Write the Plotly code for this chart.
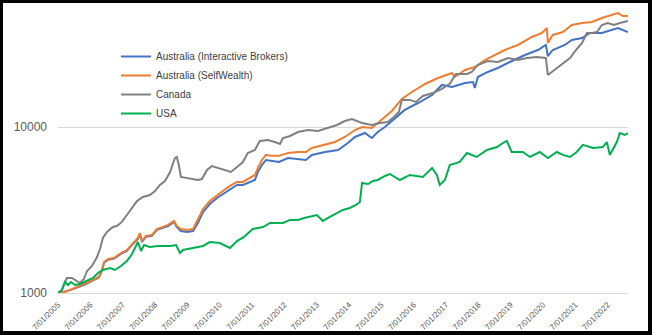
import plotly.graph_objects as go

# ---------------- data ----------------
canada_dates = ["2005-07-01","2005-08-15","2005-09-18","2005-10-10","2005-12-06","2006-01-20","2006-03-05",
    "2006-04-20","2006-05-25","2006-07-20","2006-09-15","2006-10-18","2006-11-20","2007-01-05","2007-03-12",
    "2007-04-27","2007-06-22","2007-08-18","2007-10-15","2007-12-10","2008-02-15","2008-05-03","2008-07-01",
    "2008-08-25","2008-10-21","2008-12-18","2009-01-21","2009-02-12","2009-03-04","2009-03-27","2009-04-19",
    "2009-06-27","2009-09-03","2009-10-28","2009-12-13","2010-02-08","2010-04-04","2010-06-12","2010-08-18",
    "2010-11-06","2011-01-13","2011-03-20","2011-05-15","2011-08-03","2011-09-28","2011-12-28","2012-03-15",
    "2012-05-12","2012-06-15","2012-09-03","2012-12-01","2013-03-24","2013-07-15","2013-11-06","2014-02-15",
    "2014-05-15","2014-08-03","2014-11-25","2015-03-15","2015-06-15","2015-09-12","2015-11-20","2016-01-15",
    "2016-02-18","2016-05-18","2016-07-25","2016-10-12","2017-02-03","2017-05-15","2017-08-12","2017-10-20",
    "2018-02-22","2018-04-18","2018-06-25","2018-10-15","2019-02-06","2019-06-01","2019-09-20","2020-01-01",
    "2020-04-20","2020-08-01","2020-08-24","2020-10-08","2020-12-04","2021-02-10","2021-05-01","2021-07-08",
    "2021-09-14","2021-11-08","2022-01-04","2022-03-01","2022-04-25","2022-07-01","2022-09-08","2022-11-15",
    "2023-02-15"]
canada_values = [1000,1043,1165,1231,1231,1181,1148,
    1214,1357,1454,1648,1840,2145,2330,2497,
    2530,2680,2950,3252,3580,3790,3895,4120,
    4475,4730,5357,6070,6507,6600,5900,5000,
    4930,4860,4795,4860,5510,5820,5663,5510,
    5357,5740,6155,6974,7270,8240,8350,8120,
    7900,8586,8830,9330,9590,9460,9860,10280,
    10870,11170,10570,10280,10570,10720,11490,12320,
    14560,14560,14150,15370,16030,16950,18200,20860,
    20860,21450,23640,24980,24640,26040,25320,26040,
    26400,26040,20580,21450,22670,23970,26040,29100,
    32060,36840,36840,37360,41170,42320,41170,42320,
    43520]

sw_dates = ["2005-07-01","2005-09-07","2005-11-15","2006-02-01","2006-05-01","2006-08-01","2006-10-06",
    "2006-11-10","2006-12-03","2007-01-18","2007-03-25","2007-06-12","2007-08-18","2007-10-25","2007-12-21",
    "2008-01-12","2008-02-05","2008-03-20","2008-05-27","2008-07-22","2008-10-01","2008-11-25","2009-02-01",
    "2009-03-04","2009-04-19","2009-06-27","2009-09-03","2009-10-28","2009-12-25","2010-03-12","2010-06-01",
    "2010-08-06","2010-10-25","2011-01-13","2011-03-20","2011-06-06","2011-08-03","2011-09-06","2011-10-21",
    "2011-12-06","2012-02-12","2012-05-01","2012-08-10","2012-12-01","2013-03-01","2013-05-07","2013-10-03",
    "2014-01-24","2014-05-15","2014-09-06","2014-11-25","2015-03-15","2015-05-22","2015-08-10","2015-10-28",
    "2016-02-18","2016-06-10","2016-11-06","2017-04-01","2017-09-06","2017-10-08","2018-02-01","2018-05-22",
    "2018-09-12","2019-01-04","2019-04-25","2019-09-20","2020-02-27","2020-06-18","2020-08-12","2020-08-24",
    "2020-10-18","2021-02-10","2021-05-21","2021-09-14","2022-01-04","2022-04-25","2022-08-15","2022-10-24",
    "2022-12-18","2023-02-15"]
sw_values = [1000,1014,1043,1087,1133,1198,1249,
    1376,1537,1602,1625,1742,1815,2000,2145,
    2298,2056,2206,2237,2430,2497,2570,2717,
    2530,2430,2397,2430,2755,3208,3580,3895,
    4120,4415,4665,4665,4930,5140,5663,6330,
    6790,6700,6700,6974,7070,7070,7474,7800,
    8120,8710,9590,10000,9860,10570,11490,12490,
    14760,16250,18160,19730,21150,20010,22040,22990,
    25320,27140,29100,31190,34850,36840,39490,32060,
    35840,37360,41170,42320,42920,45360,47280,48620,
    46630,46630]

ib_dates = ["2005-07-01","2005-09-07","2005-11-15","2006-02-01","2006-05-01","2006-08-01","2006-10-06",
    "2006-11-10","2006-12-03","2007-01-18","2007-03-25","2007-06-12","2007-08-18","2007-10-25","2007-12-21",
    "2008-01-12","2008-02-05","2008-03-20","2008-05-27","2008-07-22","2008-10-01","2008-11-25","2009-02-01",
    "2009-03-04","2009-04-19","2009-06-27","2009-09-03","2009-10-28","2009-12-25","2010-03-12","2010-06-01",
    "2010-08-06","2010-10-25","2011-01-13","2011-03-20","2011-06-06","2011-08-03","2011-09-06","2011-10-21",
    "2011-12-06","2012-02-12","2012-05-01","2012-08-10","2012-12-01","2013-03-01","2013-05-07","2013-10-03",
    "2014-02-27","2014-06-18","2014-09-06","2014-12-28","2015-03-15","2015-05-22","2015-08-10","2015-12-01",
    "2016-03-22","2016-08-18","2017-01-24","2017-05-15","2017-09-06","2018-02-01","2018-05-01","2018-05-22",
    "2018-06-25","2018-10-15","2019-02-06","2019-06-22","2019-12-10","2020-05-03","2020-08-01","2020-08-24",
    "2020-10-18","2021-03-04","2021-05-21","2021-09-14","2021-12-12","2022-04-25","2022-08-15","2022-10-24",
    "2023-02-15"]
ib_values = [1000,1014,1040,1080,1125,1190,1240,
    1365,1520,1585,1610,1720,1790,1975,2120,
    2270,2030,2180,2210,2400,2460,2530,2680,
    2497,2364,2330,2364,2641,3076,3436,3736,
    3950,4233,4475,4475,4665,4795,5357,5900,
    6330,6240,6155,6507,6418,6330,6790,7070,
    7270,8011,8710,9204,8586,9330,10000,11330,
    12670,13950,15580,17920,17420,18410,18670,17180,
    20010,21450,22670,24640,27140,29100,31190,26770,
    29100,31190,33440,34370,36840,36840,38400,39490,
    37360]

usa_dates = ["2005-07-01","2005-08-15","2005-09-18","2005-10-22","2005-11-25","2006-01-10","2006-03-05",
    "2006-05-25","2006-08-01","2006-09-25","2006-11-20","2007-02-09","2007-04-04","2007-06-12","2007-08-18",
    "2007-10-15","2007-11-28","2007-12-21","2008-01-25","2008-02-28","2008-05-03","2008-08-03","2008-10-21",
    "2008-12-28","2009-02-24","2009-04-09","2009-05-12","2009-09-03","2009-12-25","2010-03-12","2010-07-03",
    "2010-10-25","2011-01-13","2011-04-01","2011-07-10","2011-11-03","2012-01-21","2012-06-15","2012-09-03",
    "2012-12-01","2013-02-09","2013-07-03","2013-09-09","2013-11-27","2014-02-15","2014-04-22","2014-07-10",
    "2014-09-18","2014-11-01","2014-11-25","2015-02-01","2015-03-28","2015-05-22","2015-08-10","2015-10-06",
    "2016-01-27","2016-05-18","2016-10-12","2017-01-24","2017-03-19","2017-04-21","2017-06-18","2017-08-12",
    "2017-12-03","2018-02-22","2018-06-12","2018-10-06","2019-01-28","2019-04-03","2019-05-18","2019-07-12",
    "2019-11-15","2020-02-03","2020-05-25","2020-08-24","2020-12-04","2021-02-10","2021-05-01","2021-07-16",
    "2021-09-24","2022-01-16","2022-05-06","2022-06-21","2022-07-25","2022-10-12","2022-11-15","2023-01-12",
    "2023-02-15"]
usa_values = [1000,1043,1165,1117,1165,1117,1133,
    1181,1231,1320,1376,1414,1376,1454,1558,
    1718,1946,2028,1791,1946,1893,1920,1920,
    1920,1946,1742,1815,1867,1920,2028,2000,
    1867,2056,2177,2430,2497,2641,2641,2755,
    2755,2830,2950,2717,2870,3034,3165,3252,
    3390,3536,4600,4535,4730,4795,5070,5210,
    4795,5140,5000,5663,5140,4475,4795,5900,
    6155,6974,6600,7270,7570,8011,8240,7070,
    7070,6600,7070,6507,7070,6790,6600,7070,
    7800,7474,7570,8120,6790,8120,9204,8950,
    9204]

series_names = ["Australia (Interactive Brokers)", "Australia (SelfWealth)", "Canada", "USA"]
series_dates = [ib_dates, sw_dates, canada_dates, usa_dates]
series_values = [ib_values, sw_values, canada_values, usa_values]
series_colors = ["#4472C4", "#ED7D31", "#808080", "#00B050"]

year_ticks = [f"{y}-07-01" for y in range(2005, 2023)]
y_ticks = [1000, 10000]

# ---------------- figure ----------------
W, H = 652, 335
ML, MR, MT, MB = 58, 24, 8, 42
PW, PH = W - ML - MR, H - MT - MB

fig = go.Figure()
for name, d, v, c in zip(series_names, series_dates, series_values, series_colors):
    fig.add_trace(go.Scatter(x=d, y=v, name=name, mode="lines",
                             line=dict(color=c, width=2)))

def px_x(p):
    return (p - ML) / PW

def px_y(p):
    return (H - MB - p) / PH

fig.add_shape(type="rect", xref="paper", yref="paper",
              x0=px_x(3), x1=px_x(648), y0=px_y(331), y1=px_y(3),
              fillcolor="white", line=dict(width=0), layer="below")

fig.update_layout(
    width=W, height=H,
    margin=dict(l=ML, r=MR, t=MT, b=MB, autoexpand=False),
    paper_bgcolor="black", plot_bgcolor="white",
    font=dict(family="Liberation Sans, Arial, sans-serif", color="#595959"),
    showlegend=True,
    legend=dict(x=px_x(116), y=px_y(42), xanchor="left", yanchor="top",
                bgcolor="rgba(0,0,0,0)", font=dict(size=10, color="#404040"),
                tracegroupgap=0),
    xaxis=dict(type="date", range=["2005-07-01", "2023-02-15"],
               tickvals=year_ticks, tickformat="%-m/%d/%Y", tickangle=-45,
               tickfont=dict(size=8, color="#595959"),
               showgrid=False, zeroline=False, ticks="",
               showline=True, linecolor="#d9d9d9", linewidth=1,
               ticklabelstandoff=3, automargin=False),
    yaxis=dict(type="log", range=[3, 3 + PH / 166.0],
               tickvals=y_ticks, ticktext=["1000", "10000"],
               tickfont=dict(size=12, color="#595959"),
               showgrid=True, gridcolor="#d9d9d9", gridwidth=1,
               zeroline=False, ticks="", showline=False,
               ticklabelstandoff=10, automargin=False),
)

fig.write_html("out.html")
